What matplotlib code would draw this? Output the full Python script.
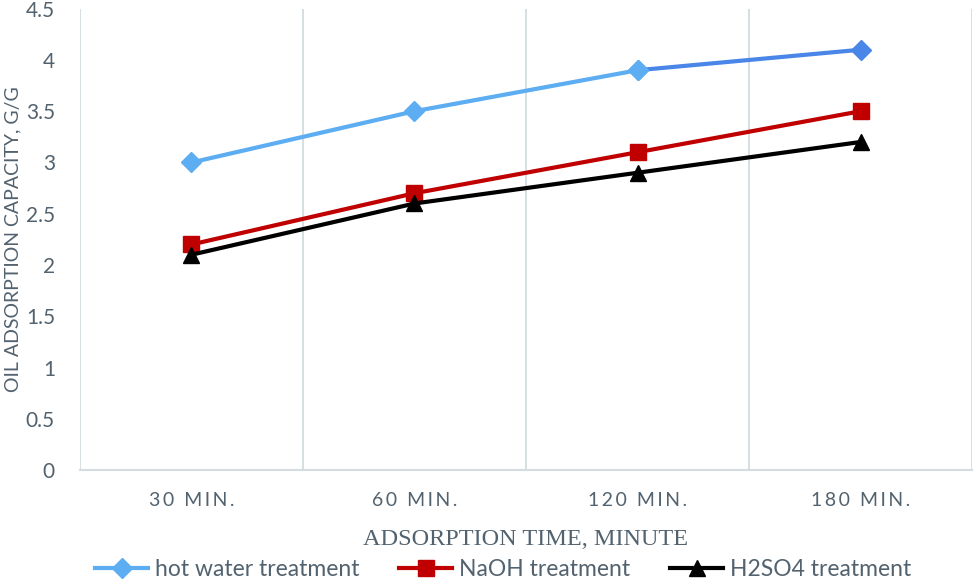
import numpy as np
import matplotlib.pyplot as plt

# 데이터
categories = ['30 MIN.', '60 MIN.', '120 MIN.', '180 MIN.']
hot_water = [3.0, 3.5, 3.9, 4.1]
naoh = [2.2, 2.7, 3.1, 3.5]
h2so4 = [2.1, 2.6, 2.9, 3.2]

text_color = '#52626E'
grid_color = '#D3DCE0'

plt.rcParams['font.family'] = ['Lato', 'DejaVu Sans']

fig = plt.figure(figsize=(9.75, 5.81), dpi=100)
ax = fig.add_axes([0.082, 0.191, 0.915, 0.794])

x = np.arange(len(categories))

# hot water: 마지막 구간만 진한 파랑
ax.plot(x[:3], hot_water[:3], color='#5DADF2', linewidth=3.0, marker='D', markersize=10.5,
        label='hot water treatment', zorder=3)
ax.plot(x[2:], hot_water[2:], color='#4A86E8', linewidth=3.0, zorder=3)
ax.plot(x[3], hot_water[3], color='#4A86E8', marker='D', markersize=10.5, zorder=4)
ax.plot(x[2], hot_water[2], color='#5DADF2', marker='D', markersize=10.5, zorder=4)

ax.plot(x, naoh, color='#C00000', linewidth=3.0, marker='s', markersize=12,
        label='NaOH treatment', zorder=3)
ax.plot(x, h2so4, color='#000000', linewidth=3.0, marker='^', markersize=12,
        label='H2SO4 treatment', zorder=3)

ax.set_xlim(-0.5, 3.5)
ax.set_ylim(0, 4.5)
ax.set_yticks(np.arange(0, 4.51, 0.5))
ax.set_yticklabels(['0', '0.5', '1', '1.5', '2', '2.5', '3', '3.5', '4', '4.5'])
ax.set_xticks(x)
ax.set_xticklabels(['\u2009'.join(c) for c in categories], fontsize=14)

# 카테고리 경계 세로선
for b in np.arange(-0.5, 3.6, 1.0):
    ax.axvline(b, color=grid_color, linewidth=1.3, zorder=1)

for s in ['top', 'right', 'left']:
    ax.spines[s].set_visible(False)
ax.spines['bottom'].set_color(grid_color)
ax.spines['bottom'].set_linewidth(1.5)

ax.tick_params(axis='both', length=0, colors=text_color)
ax.tick_params(axis='y', labelsize=15, pad=18)
ax.tick_params(axis='x', pad=16)

ax.set_xlabel('ADSORPTION TIME, MINUTE', fontsize=17.5, color=text_color,
              family=['Liberation Serif', 'DejaVu Serif'], labelpad=14)
ax.set_ylabel('OIL ADSORPTION CAPACITY, G/G', fontsize=14, color=text_color,
              family=['Lato', 'DejaVu Sans'])
ax.yaxis.set_label_coords(-0.066, 0.50)

leg = fig.legend(loc='center', ncol=3, bbox_to_anchor=(0.516, 0.019), frameon=False,
                 prop={'family': ['Lato', 'DejaVu Sans'], 'size': 16.5},
                 handlelength=2.3, columnspacing=1.75, handletextpad=0.3)
for t in leg.get_texts():
    t.set_color(text_color)

fig.savefig('out.png', dpi=100)
